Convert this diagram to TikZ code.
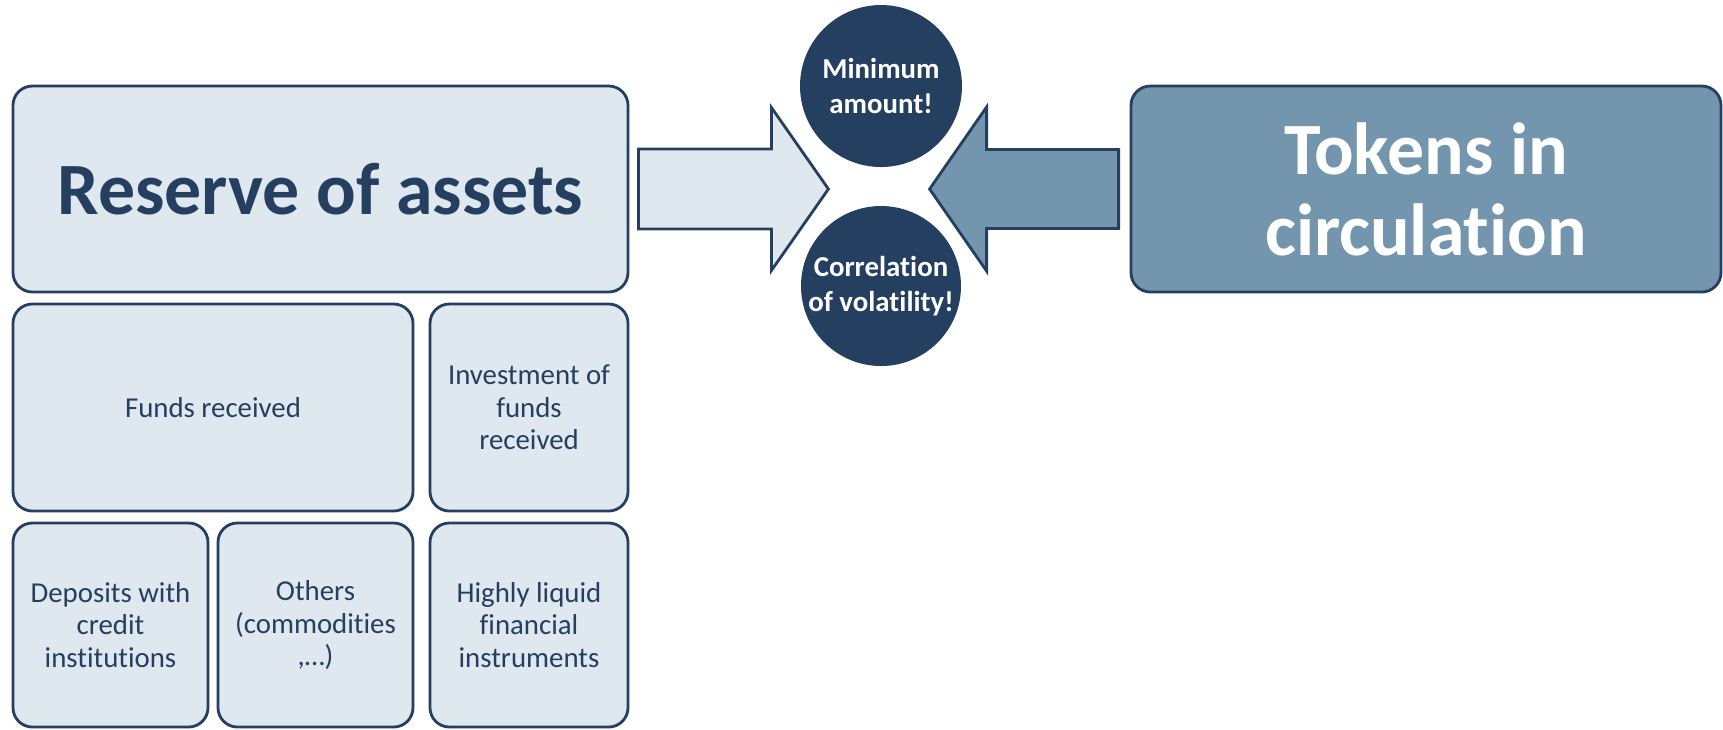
\documentclass[tikz,border=0pt]{standalone}
\usepackage{fontspec}
\setmainfont[Ligatures={NoCommon}]{Carlito}
\usepackage{xcolor}
\usepackage{tikz}
\usetikzlibrary{calc}
\definecolor{navy}{HTML}{243F60}
\definecolor{pale}{HTML}{DFE7EF}
\definecolor{steel}{HTML}{7396AE}

\begin{document}
\begin{tikzpicture}[
 b/.style={draw=navy,line width=0.8pt,rounded corners=5.5pt,fill=pale,align=center,inner sep=0pt,text=navy,font=\fontsize{8.2}{9.3}\selectfont},
 big/.style={b,font=\fontsize{21}{23}\selectfont\bfseries},
 dot/.style={circle,fill=navy,inner sep=0pt,align=center,text=white,font=\fontsize{8.2}{9.8}\selectfont\bfseries},
 blk/.style={draw=navy,line width=0.8pt,line join=miter}
]
\useasboundingbox (0,0) rectangle (17.23,-7.29);
\node[big,minimum width=6.15cm,minimum height=2.06cm] (R) at (3.205,-1.89) {Reserve of assets};
\node[b,minimum width=4.00cm,minimum height=2.07cm] (F) at (2.13,-4.075) {Funds received};
\node[b,minimum width=1.98cm,minimum height=2.07cm] (I) at (5.29,-4.075) {Investment of\\funds\\received};
\node[b,minimum width=1.95cm,minimum height=2.04cm] (D) at (1.105,-6.25) {Deposits with\\credit\\institutions};
\node[b,minimum width=1.95cm,minimum height=2.04cm] (O) at (3.155,-6.25) {Others\\(commodities\\,\dots)};
\node[b,minimum width=1.98cm,minimum height=2.04cm] (H) at (5.29,-6.25) {Highly liquid\\financial\\instruments};
\node[big,fill=steel,text=white,minimum width=5.90cm,minimum height=2.06cm] (T) at (14.26,-1.89) {Tokens in\\circulation};
\node[dot,minimum size=1.62cm] (M) at (8.81,-0.86) {Minimum\\amount!};
\node[dot,minimum size=1.60cm] (V) at (8.81,-2.86) {Correlation\\of volatility!};
% block arrows towards the two circles
\draw[blk,fill=pale] ($(R.east)+(0.09,0.40)$) -- ++(1.33,0) -- ++(0,0.415) -- ++(0.57,-0.815)
  -- ++(-0.57,-0.815) -- ++(0,0.415) -- ++(-1.33,0) -- cycle;
\draw[blk,fill=steel] ($(T.west)+(-0.11,0.395)$) -- ++(-1.32,0) -- ++(0,0.425) -- ++(-0.57,-0.82)
  -- ++(0.57,-0.82) -- ++(0,0.425) -- ++(1.32,0) -- cycle;
\end{tikzpicture}
\end{document}
